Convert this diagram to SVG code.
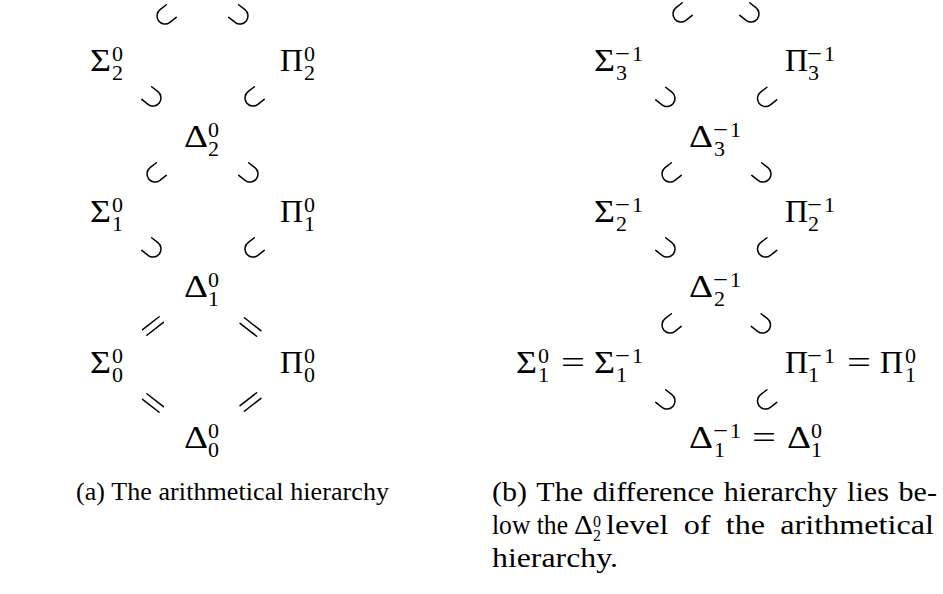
<svg xmlns="http://www.w3.org/2000/svg" xmlns:xlink="http://www.w3.org/1999/xlink" width="943" height="594" viewBox="0 0 943 594">
<style>
  text { font-family: "Liberation Serif", "DejaVu Serif", serif; fill: #000; }
  .m { font-size: 31px; }
  .s { font-size: 22px; }
  .cap { font-size: 26px; }
  .capb { font-size: 27px; }
  .cs { font-size: 16px; }
  .rel { fill: none; stroke: #000; stroke-width: 1.5; stroke-linecap: round; }
</style>
<defs>
  <path id="sub" class="rel" d="M 8,-8 H 0 A 8 8 0 0 0 0,8 H 8"/>
  <path id="eq" class="rel" d="M -10.5,-3.5 H 10.5 M -10.5,3.5 H 10.5"/>
</defs>
<rect width="943" height="594" fill="#fff"/>

<g id="connectors">
  <!-- (a) -->
  <use xlink:href="#sub" transform="translate(165,16) rotate(-38)"/>
  <use xlink:href="#sub" transform="translate(240,16) rotate(-142)"/>
  <use xlink:href="#sub" transform="translate(153,98) rotate(-142)"/>
  <use xlink:href="#sub" transform="translate(253,98) rotate(-38)"/>
  <use xlink:href="#sub" transform="translate(155,174) rotate(-38)"/>
  <use xlink:href="#sub" transform="translate(250,174) rotate(-142)"/>
  <use xlink:href="#sub" transform="translate(153,249) rotate(-142)"/>
  <use xlink:href="#sub" transform="translate(253,249) rotate(-38)"/>
  <use xlink:href="#eq" transform="translate(153,326) rotate(-38)"/>
  <use xlink:href="#eq" transform="translate(250.5,327) rotate(38)"/>
  <use xlink:href="#eq" transform="translate(153,403) rotate(38)"/>
  <use xlink:href="#eq" transform="translate(250.5,402) rotate(-38)"/>
  <!-- (b) -->
  <use xlink:href="#sub" transform="translate(681,14) rotate(-38)"/>
  <use xlink:href="#sub" transform="translate(751,14) rotate(-142)"/>
  <use xlink:href="#sub" transform="translate(667,98.5) rotate(-142)"/>
  <use xlink:href="#sub" transform="translate(765.5,98.5) rotate(-38)"/>
  <use xlink:href="#sub" transform="translate(670,174) rotate(-38)"/>
  <use xlink:href="#sub" transform="translate(763,174) rotate(-142)"/>
  <use xlink:href="#sub" transform="translate(667,249) rotate(-142)"/>
  <use xlink:href="#sub" transform="translate(765.5,249) rotate(-38)"/>
  <use xlink:href="#sub" transform="translate(670,325) rotate(-38)"/>
  <use xlink:href="#sub" transform="translate(762.5,325) rotate(-142)"/>
  <use xlink:href="#sub" transform="translate(667,401) rotate(-142)"/>
  <use xlink:href="#sub" transform="translate(765.5,401) rotate(-38)"/>
</g>

<!-- (a) arithmetical hierarchy -->
<g id="a-sigma2"><text class="m" x="90" y="71" textLength="21" lengthAdjust="spacingAndGlyphs">Σ</text><text class="s"><tspan x="112" y="61">0</tspan><tspan x="112" y="80">2</tspan></text></g>
<g id="a-pi2"><text class="m" x="280" y="71" textLength="23" lengthAdjust="spacingAndGlyphs">Π</text><text class="s"><tspan x="304" y="61">0</tspan><tspan x="304" y="80">2</tspan></text></g>
<g id="a-delta2"><text class="m" x="184" y="147" textLength="24" lengthAdjust="spacingAndGlyphs">Δ</text><text class="s"><tspan x="208" y="137">0</tspan><tspan x="208" y="156">2</tspan></text></g>
<g id="a-sigma1"><text class="m" x="90" y="222" textLength="21" lengthAdjust="spacingAndGlyphs">Σ</text><text class="s"><tspan x="112" y="212">0</tspan><tspan x="112" y="231">1</tspan></text></g>
<g id="a-pi1"><text class="m" x="280" y="222" textLength="23" lengthAdjust="spacingAndGlyphs">Π</text><text class="s"><tspan x="304" y="212">0</tspan><tspan x="304" y="231">1</tspan></text></g>
<g id="a-delta1"><text class="m" x="184" y="297" textLength="24" lengthAdjust="spacingAndGlyphs">Δ</text><text class="s"><tspan x="208" y="287">0</tspan><tspan x="208" y="306">1</tspan></text></g>
<g id="a-sigma0"><text class="m" x="90" y="373" textLength="21" lengthAdjust="spacingAndGlyphs">Σ</text><text class="s"><tspan x="112" y="363">0</tspan><tspan x="112" y="382">0</tspan></text></g>
<g id="a-pi0"><text class="m" x="280" y="373" textLength="23" lengthAdjust="spacingAndGlyphs">Π</text><text class="s"><tspan x="304" y="363">0</tspan><tspan x="304" y="382">0</tspan></text></g>
<g id="a-delta0"><text class="m" x="184" y="448" textLength="24" lengthAdjust="spacingAndGlyphs">Δ</text><text class="s"><tspan x="208" y="438">0</tspan><tspan x="208" y="457">0</tspan></text></g>
<g id="caption-a"><text class="cap" x="76" y="500" textLength="313" lengthAdjust="spacing">(a) The arithmetical hierarchy</text></g>

<!-- (b) difference hierarchy -->
<g id="b-sigma3"><text class="m" x="594" y="71" textLength="21" lengthAdjust="spacingAndGlyphs">Σ</text><text class="s"><tspan x="615" y="61" textLength="15" lengthAdjust="spacingAndGlyphs">−</tspan><tspan x="632" y="61">1</tspan><tspan x="616" y="80">3</tspan></text></g>
<g id="b-pi3"><text class="m" x="785" y="71" textLength="23" lengthAdjust="spacingAndGlyphs">Π</text><text class="s"><tspan x="807" y="61" textLength="15" lengthAdjust="spacingAndGlyphs">−</tspan><tspan x="824" y="61">1</tspan><tspan x="808" y="80">3</tspan></text></g>
<g id="b-delta3"><text class="m" x="689" y="147" textLength="24" lengthAdjust="spacingAndGlyphs">Δ</text><text class="s"><tspan x="713" y="137" textLength="15" lengthAdjust="spacingAndGlyphs">−</tspan><tspan x="730" y="137">1</tspan><tspan x="714" y="156">3</tspan></text></g>
<g id="b-sigma2"><text class="m" x="594" y="222" textLength="21" lengthAdjust="spacingAndGlyphs">Σ</text><text class="s"><tspan x="615" y="212" textLength="15" lengthAdjust="spacingAndGlyphs">−</tspan><tspan x="632" y="212">1</tspan><tspan x="616" y="231">2</tspan></text></g>
<g id="b-pi2"><text class="m" x="785" y="222" textLength="23" lengthAdjust="spacingAndGlyphs">Π</text><text class="s"><tspan x="807" y="212" textLength="15" lengthAdjust="spacingAndGlyphs">−</tspan><tspan x="824" y="212">1</tspan><tspan x="808" y="231">2</tspan></text></g>
<g id="b-delta2"><text class="m" x="689" y="297" textLength="24" lengthAdjust="spacingAndGlyphs">Δ</text><text class="s"><tspan x="713" y="287" textLength="15" lengthAdjust="spacingAndGlyphs">−</tspan><tspan x="730" y="287">1</tspan><tspan x="714" y="306">2</tspan></text></g>
<g id="b-sigma1">
  <text class="m" x="516" y="373" textLength="21" lengthAdjust="spacingAndGlyphs">Σ</text><text class="s"><tspan x="538" y="363">0</tspan><tspan x="538" y="382">1</tspan></text>
  <text class="m" x="561" y="373" textLength="24" lengthAdjust="spacingAndGlyphs">=</text>
  <text class="m" x="594" y="373" textLength="21" lengthAdjust="spacingAndGlyphs">Σ</text><text class="s"><tspan x="615" y="363" textLength="15" lengthAdjust="spacingAndGlyphs">−</tspan><tspan x="632" y="363">1</tspan><tspan x="616" y="382">1</tspan></text>
</g>
<g id="b-pi1">
  <text class="m" x="785" y="373" textLength="23" lengthAdjust="spacingAndGlyphs">Π</text><text class="s"><tspan x="807" y="363" textLength="15" lengthAdjust="spacingAndGlyphs">−</tspan><tspan x="824" y="363">1</tspan><tspan x="808" y="382">1</tspan></text>
  <text class="m" x="847" y="373" textLength="24" lengthAdjust="spacingAndGlyphs">=</text>
  <text class="m" x="880" y="373" textLength="23" lengthAdjust="spacingAndGlyphs">Π</text><text class="s"><tspan x="905" y="363">0</tspan><tspan x="905" y="382">1</tspan></text>
</g>
<g id="b-delta1">
  <text class="m" x="689" y="448" textLength="24" lengthAdjust="spacingAndGlyphs">Δ</text><text class="s"><tspan x="713" y="438" textLength="15" lengthAdjust="spacingAndGlyphs">−</tspan><tspan x="730" y="438">1</tspan><tspan x="714" y="457">1</tspan></text>
  <text class="m" x="752" y="448" textLength="24" lengthAdjust="spacingAndGlyphs">=</text>
  <text class="m" x="787" y="448" textLength="24" lengthAdjust="spacingAndGlyphs">Δ</text><text class="s"><tspan x="811" y="438">0</tspan><tspan x="811" y="457">1</tspan></text>
</g>
<g id="caption-b">
  <text class="capb" x="492" y="501" textLength="445" lengthAdjust="spacingAndGlyphs" word-spacing="2">(b) The difference hierarchy lies be-</text>
  <text class="capb" x="492" y="534" textLength="76" lengthAdjust="spacingAndGlyphs">low the</text>
  <text class="capb" x="574" y="534" textLength="19" lengthAdjust="spacingAndGlyphs">Δ</text>
  <text class="cs"><tspan x="593" y="527">0</tspan><tspan x="593" y="541">2</tspan></text>
  <text class="capb" x="606" y="534" textLength="328" lengthAdjust="spacingAndGlyphs" word-spacing="6">level of the arithmetical</text>
  <text class="capb" x="492" y="567" textLength="126" lengthAdjust="spacingAndGlyphs">hierarchy.</text>
</g>
</svg>
